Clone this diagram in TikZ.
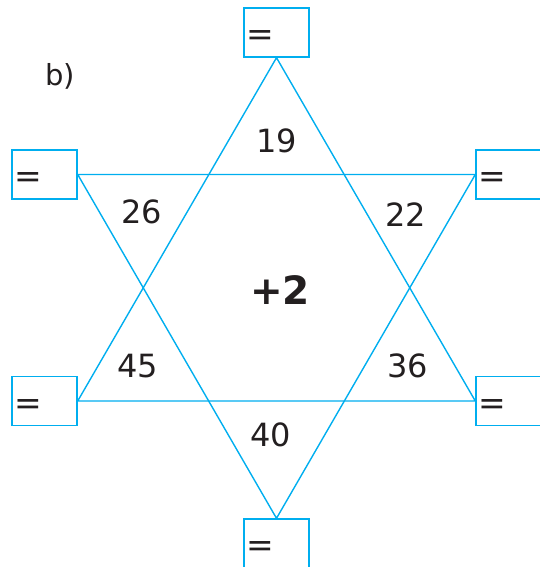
\documentclass[tikz,border=0pt]{standalone}
\usepackage{fontspec}
\setmainfont{DejaVu Sans}
\definecolor{starcyan}{RGB}{0,174,239}
\definecolor{txt}{RGB}{35,31,32}
\begin{document}
\begin{tikzpicture}[x=1pt,y=-1pt,
  ansbox/.style={draw=starcyan,line width=1.4pt,minimum width=65pt,minimum height=49pt,inner sep=0pt},
  eqsign/.style={anchor=west,font=\fontsize{33}{33}\selectfont,text=txt,inner sep=0pt},
  num/.style={font=\fontsize{32}{32}\selectfont,text=txt,inner sep=0pt},
  starline/.style={draw=starcyan,line width=1.4pt,line join=miter}]
\useasboundingbox (0,0) rectangle (540,567);
\clip (0,0) rectangle (540,567);
\node[ansbox] (top) at (276.5,32.5) {};
\node[ansbox] (lt) at (44.5,174.5) {};
\node[ansbox] (rt) at (508.5,174.5) {};
\node[ansbox] (lb) at (44.5,401) {};
\node[ansbox] (rb) at (508.5,401) {};
\node[ansbox] (bot) at (276.5,543.5) {};
\foreach \b in {top,lt,rt,lb,rb,bot}{
  \node[eqsign] (eq\b) at ([xshift=3pt,yshift=-6pt]\b.west) {=};
}
\draw[starline] (top.south) -- (lb.east) -- (rb.west) -- cycle;
\draw[starline] (lt.east) -- (rt.west) -- (bot.north) -- cycle;
\node[num] (n19) at (277,141) {19};
\node[num] (n26) at (142,212) {26};
\node[num] (n22) at (406,215) {22};
\node[num] (n45) at (138,366) {45};
\node[num] (n36) at (408,366) {36};
\node[num] (n40) at (271,435) {40};
\node[text=txt,inner sep=0pt,font=\fontsize{39}{39}\selectfont\bfseries] (c) at (280,290) {+2};
\node[text=txt,inner sep=0pt,font=\fontsize{29}{29}\selectfont] (lbl) at (60,76) {b)};
\end{tikzpicture}
\end{document}
